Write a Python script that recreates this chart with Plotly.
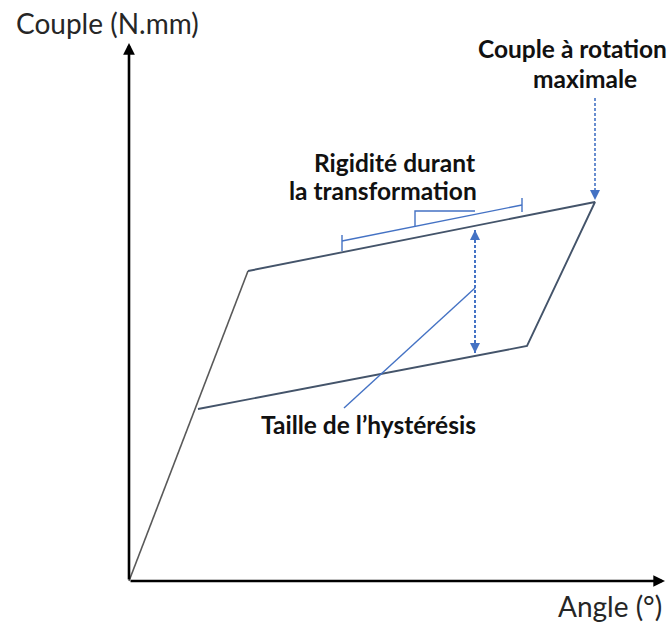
import plotly.graph_objects as go

# Schematic torque-angle hysteresis loop (arbitrary units, no ticks)
load_angle = [0, 119]
load_torque = [0, 310]

loop_angle = [119, 466, 398, 69]
loop_torque = [310, 379, 235, 172]

# stiffness bracket and slope marker drawn along the upper plateau
stiff_angle = [213, 393, None, 213, 213, None, 393, 393, None, 286, 286, 346]
stiff_torque = [340, 376, None, 330, 346, None, 369, 383, None, 354, 370, 370]

# callout to the hysteresis-size arrow
callout_angle = [215, 346]
callout_torque = [173, 293]

# hysteresis size (dotted, double arrow) and max-torque pointer
hyst_angle = [346, 346]
hyst_torque = [228, 351]
max_angle = [466, 466]
max_torque = [483, 383]

BLUE = "#4472C4"
LOOP = "#44546A"
GREY = "#595959"

fig = go.Figure()
fig.add_trace(go.Scatter(x=load_angle, y=load_torque, mode="lines",
                         line=dict(color=GREY, width=1.6)))
fig.add_trace(go.Scatter(x=loop_angle, y=loop_torque, mode="lines",
                         line=dict(color=LOOP, width=1.9)))
fig.add_trace(go.Scatter(x=stiff_angle, y=stiff_torque, mode="lines",
                         line=dict(color=BLUE, width=1.4)))
fig.add_trace(go.Scatter(x=callout_angle, y=callout_torque, mode="lines",
                         line=dict(color=BLUE, width=1.4)))
fig.add_trace(go.Scatter(x=hyst_angle, y=hyst_torque, mode="lines",
                         line=dict(color=BLUE, width=2, dash="3px,2px")))
fig.add_trace(go.Scatter(x=max_angle, y=max_torque, mode="lines",
                         line=dict(color=BLUE, width=1.6, dash="3px,2px")))

ann = []
# axes with arrowheads
ann.append(dict(x=0, y=538, ax=0, ay=0, axref="x", ayref="y", xref="x", yref="y",
                text="", showarrow=True, arrowhead=2, arrowsize=0.9,
                arrowwidth=2.6, arrowcolor="#000000"))
ann.append(dict(x=536, y=0, ax=0, ay=0, axref="x", ayref="y", xref="x", yref="y",
                text="", showarrow=True, arrowhead=2, arrowsize=0.9,
                arrowwidth=2.6, arrowcolor="#000000"))
# blue arrowheads
for (xx, yy, dy) in [(346, 351, 10), (346, 228, -10), (466, 381, -10)]:
    ann.append(dict(x=xx, y=yy, ax=0, ay=dy, xref="x", yref="y", text="",
                    showarrow=True, arrowhead=2, arrowsize=1, arrowwidth=2,
                    arrowcolor=BLUE, standoff=0))

REG = dict(family="Lato", size=28, color="#262626")
BOLD = dict(family="Lato", size=24.5, color="#111111", weight="bold")


def label(x, y, text, font, xanchor="center"):
    return dict(x=x, y=y, text=text, showarrow=False, font=font,
                xanchor=xanchor, yanchor="middle")


ann += [
    label(-22, 558, "Couple (N.mm)", REG),
    label(481, -25, "Angle (°)", REG),
    label(443, 533, "<b>Couple à rotation</b>", BOLD),
    label(456, 503, "<b>maximale</b>", BOLD),
    label(348, 419, "<b>Rigidité durant</b>", BOLD, "right"),
    label(350, 391, "<b>la transformation</b>", BOLD, "right"),
    label(239, 157, "<b>Taille de l’hystérésis</b>", BOLD),
]

fig.update_layout(
    width=670, height=622,
    margin=dict(l=0, r=0, t=0, b=0),
    paper_bgcolor="white", plot_bgcolor="white",
    showlegend=False,
    xaxis=dict(range=[-129, 541], visible=False, fixedrange=True),
    yaxis=dict(range=[-41, 581], visible=False, fixedrange=True),
    annotations=ann,
)

fig.write_html("out.html")
